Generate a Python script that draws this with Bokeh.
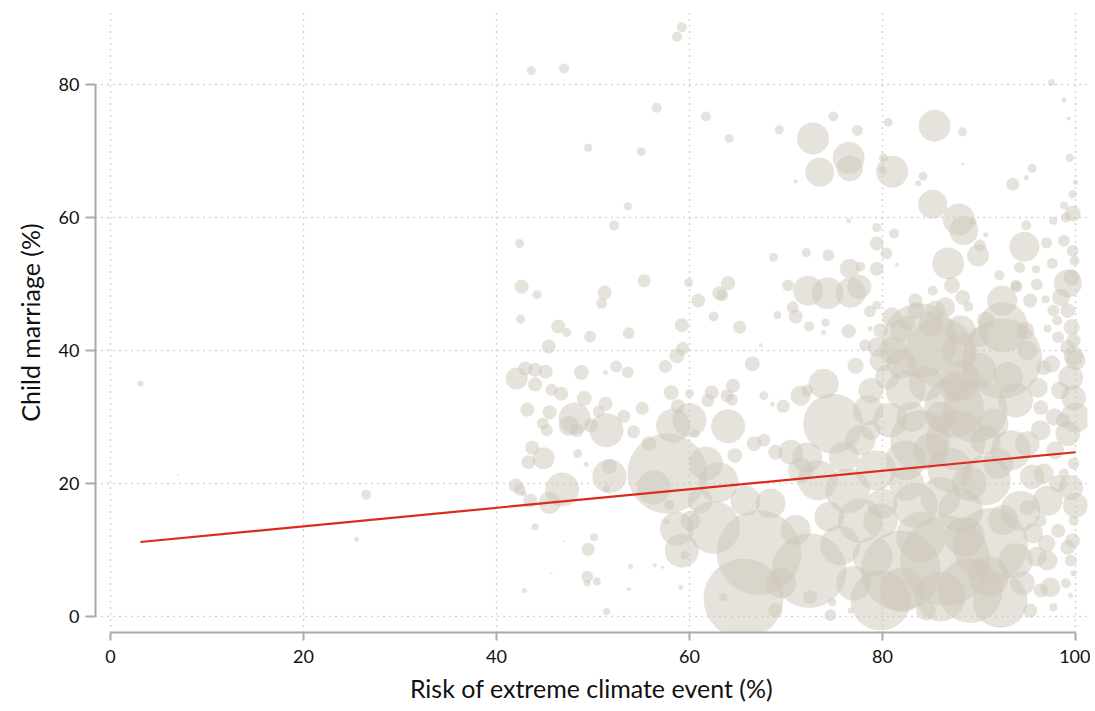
import numpy as np
from bokeh.plotting import figure
from bokeh.models import Range1d, FixedTicker, ColumnDataSource
from bokeh.embed import file_html
from bokeh.resources import INLINE

# Risk of extreme climate event (%)
risk = [
    59.2, 58.7, 43.6, 47.0, 56.6, 61.7, 64.1, 69.3, 49.5, 55.0, 53.6, 52.2, 42.4, 42.6, 44.2, 42.5,
    51.2, 50.9, 55.3, 59.9, 60.9, 63.1, 63.4, 64.0, 62.5, 65.2, 68.7, 69.1, 67.4, 46.4, 47.3, 49.7,
    53.7, 59.2, 45.4, 59.3,
    97.5, 98.8, 99.3, 74.9, 77.4, 72.8, 73.5, 76.5, 76.6, 71.0, 85.4, 88.3, 80.6, 88.3, 80.1, 80.0,
    81.0, 84.2, 83.7, 85.2, 87.9, 88.4, 89.4, 90.7, 90.1, 89.9, 86.8, 94.7, 94.9, 93.5, 94.9, 95.5,
    99.4, 100.0, 99.7, 98.8, 99.7, 99.0, 97.7, 97.0, 98.8, 99.7, 99.9, 97.6, 95.9, 96.0, 92.1, 94.2,
    93.8, 99.2, 99.6, 98.5, 99.2, 99.6, 99.8, 98.1, 97.7, 72.1, 74.4, 76.6, 77.7, 79.4, 76.5, 79.4,
    79.4, 80.4, 81.2, 81.5, 77.6, 74.3, 72.3, 76.7, 70.2, 70.7, 71.0, 72.4, 74.1, 73.9, 76.5, 78.7,
    78.7, 79.4, 85.2, 87.2, 88.3, 88.9, 82.6,
    42.1, 43.0, 44.0, 45.1, 44.0, 45.7, 46.7, 48.8, 51.3, 52.4, 53.6, 43.2, 45.5, 44.8, 45.2, 48.1,
    47.5, 48.3, 49.1, 49.8, 50.6, 51.3, 51.4, 53.2, 54.2, 55.1, 43.7, 43.3, 44.9, 48.4, 49.3, 51.7,
    51.7, 51.4, 55.8, 57.7, 56.3, 57.5, 58.7, 58.1, 58.8, 58.3, 60.0, 60.0, 60.6, 61.9, 62.3, 63.9,
    64.5, 64.4, 64.0, 66.5, 67.7, 68.6, 66.7, 67.7, 64.7, 61.7, 58.7, 59.2, 57.6, 57.9, 59.5, 59.1,
    44.0, 50.1, 49.5, 47.0, 45.7, 49.4, 49.4, 50.4, 42.9, 53.9, 53.7, 56.4, 57.2, 51.4, 43.5, 45.5,
    46.8, 42.0, 42.4, 42.8,
    3.1, 7.0, 26.5, 25.5,
    65.6, 63.0, 62.5, 67.2, 72.4, 70.5, 68.4, 74.9, 72.2, 69.7, 68.9, 72.2, 73.3, 76.4, 72.5, 76.7,
    74.8, 63.5,
    83.9, 92.4, 86.0, 87.4, 83.9, 89.6, 87.6, 79.3, 90.7, 81.9, 86.5, 91.2, 89.1, 79.8, 92.2, 92.5,
    92.4, 93.9, 96.9, 97.1, 98.2,
    99.8, 99.2, 100.0, 99.5, 99.8, 100.0, 99.2, 99.8, 98.8, 99.5, 100.0, 99.8, 99.7, 99.2, 97.1, 97.4,
    99.5, 99.8, 99.0, 99.5, 97.7, 95.6, 95.0, 96.4, 97.1, 96.7, 96.4, 96.4, 96.1, 96.7, 98.4, 97.9,
    98.7, 98.2, 96.4,
    73.9, 71.5, 78.8, 79.8, 81.1, 78.2, 77.2, 80.8, 77.7, 82.4, 87.0, 93.3, 93.8, 94.3, 93.8, 77.7,
    75.6, 79.8, 83.4, 88.1, 82.4, 88.1, 90.7, 88.1, 85.5, 83.4, 90.7, 94.8, 95.3, 78.8, 81.9, 79.8,
    71.5, 65.8, 61.1, 60.1, 74.6, 68.9, 95.3, 84.5,
    78.5, 80.5, 82.0, 84.5, 86.0, 83.0, 85.0, 82.5, 86.0, 84.0, 88.5, 82.0, 86.0, 91.0, 89.0, 92.0,
    91.5, 93.0, 90.0, 88.0, 85.0, 95.0, 95.5, 94.5, 96.0, 79.0, 77.0, 80.0, 76.0, 74.5, 71.0, 69.5,
    79.5, 81.0, 83.5, 86.5, 90.0, 95.0, 97.5, 97.8, 98.2, 97.0, 92.5, 87.5,
]

# Child marriage (%)
marriage = [
    88.6, 87.2, 82.1, 82.4, 76.5, 75.2, 71.9, 73.2, 70.5, 69.9, 61.7, 58.8, 56.1, 49.6, 48.4, 44.7,
    48.7, 47.1, 50.5, 50.2, 47.5, 48.6, 48.3, 50.1, 45.1, 43.5, 54.0, 45.3, 40.8, 43.6, 42.7, 42.1,
    42.6, 43.8, 40.6, 40.3,
    80.3, 77.7, 74.9, 75.2, 73.1, 71.9, 66.8, 69.0, 67.4, 65.4, 73.8, 72.9, 74.3, 68.1, 69.0, 67.2,
    66.9, 66.2, 65.1, 62.0, 59.7, 58.0, 59.4, 57.4, 55.8, 54.3, 53.1, 55.6, 58.8, 65.0, 66.0, 67.4,
    69.0, 65.3, 63.5, 61.8, 60.6, 60.0, 59.5, 56.2, 56.5, 55.0, 53.5, 53.1, 52.2, 49.9, 51.3, 52.5,
    49.8, 50.1, 51.0, 48.0, 46.0, 43.5, 41.5, 44.5, 46.0, 54.7, 54.3, 52.3, 52.6, 52.3, 59.5, 58.5,
    56.1, 54.6, 57.6, 52.9, 49.6, 48.6, 49.0, 48.7, 49.8, 46.5, 45.1, 43.6, 44.2, 42.7, 42.9, 45.9,
    43.3, 46.8, 49.0, 49.8, 48.0, 46.6, 44.1,
    35.8, 37.3, 37.1, 36.8, 34.9, 34.1, 33.5, 36.7, 36.7, 37.6, 36.7, 31.1, 30.7, 29.0, 28.0, 29.8,
    28.7, 28.0, 32.8, 28.7, 30.8, 32.0, 28.0, 30.1, 27.8, 31.3, 25.4, 23.2, 23.8, 24.5, 22.9, 21.1,
    22.6, 19.2, 26.0, 21.5, 19.4, 37.6, 39.2, 33.7, 31.6, 28.7, 29.5, 33.5, 27.5, 32.5, 33.7, 33.2,
    34.7, 32.6, 28.6, 38.0, 33.2, 31.9, 26.0, 26.5, 24.2, 23.0, 13.2, 9.9, 14.3, 16.8, 9.2, 4.4,
    13.5, 11.9, 10.1, 11.3, 6.5, 6.0, 5.0, 5.3, 3.9, 7.5, 4.1, 7.7, 7.4, 0.75, 17.4, 17.1,
    19.1, 19.7, 19.1, 18.5,
    35.0, 21.3, 18.3, 11.6,
    2.7, 20.2, 13.4, 9.6, 6.9, 24.7, 17.0, 29.0, 34.0, 31.6, 24.7, 23.9, 20.5, 18.9, 2.9, 0.9,
    2.1, 2.9,
    41.5, 38.8, 39.7, 31.4, 26.5, 31.0, 26.5, 22.0, 20.5, 6.9, 8.4, 10.7, 3.9, 2.4, 2.4, 43.5,
    47.5, 49.6, 47.7, 43.3, 42.0,
    39.2, 40.5, 38.5, 35.9, 32.9, 29.9, 27.5, 23.0, 21.5, 19.4, 16.7, 14.4, 11.4, 10.4, 8.4, 4.4,
    8.4, 6.5, 5.0, 3.2, 1.4, 12.5, 16.4, 14.4, 17.4, 21.5, 28.0, 31.4, 34.4, 37.4, 34.0, 25.0,
    29.5, 12.9, 3.9,
    35.0, 33.2, 34.0, 38.5, 40.0, 40.8, 37.7, 29.5, 26.5, 23.5, 22.0, 25.0, 32.5, 15.9, 8.4, 14.4,
    10.7, 14.4, 16.7, 15.9, 34.0, 35.5, 26.5, 43.0, 46.0, 47.5, 44.5, 43.0, 47.5, 28.0, 43.0, 43.0,
    22.0, 17.4, 17.4, 14.4, 0.2, 0.9, 0.9, 0.9,
    31.0, 36.0, 38.0, 35.0, 30.0, 30.0, 25.0, 20.0, 18.0, 12.0, 12.0, 4.0, 3.0, 6.0, 20.0, 23.0,
    29.0, 36.0, 37.0, 40.0, 44.0, 26.0, 21.0, 5.0, 9.0, 9.0, 5.0, 17.0, 24.0, 15.0, 13.0, 5.0,
    40.5, 45.0, 46.0, 46.5, 42.0, 40.0, 38.0, 30.0, 20.0, 11.0, 14.5, 34.5,
]

# Bubble weight (population, arbitrary units, area-proportional)
pop = [
    1.0, 1.0, 0.8, 1.0, 1.0, 1.0, 0.8, 0.8, 0.64, 0.8, 0.64, 1.0, 0.8, 2.0, 0.8, 0.8,
    2.0, 1.2, 1.7, 0.8, 2.0, 2.0, 1.4, 2.0, 1.0, 1.7, 0.8, 0.64, 0.16, 2.0, 0.8, 1.4,
    1.4, 2.0, 2.0, 1.7,
    0.5, 0.25, 0.16, 1.0, 1.2, 10.2, 8.4, 10.2, 6.8, 0.16, 10.2, 0.8, 0.8, 0.09, 0.8, 0.64,
    10.2, 0.8, 0.36, 8.4, 10.2, 8.4, 0.5, 0.25, 1.4, 4.8, 10.2, 9.0, 1.0, 1.7, 0.25, 0.8,
    0.64, 0.25, 0.64, 0.64, 2.6, 1.0, 0.64, 1.2, 1.4, 1.4, 1.0, 1.2, 0.64, 1.4, 1.0, 1.2,
    1.2, 7.8, 2.6, 3.2, 2.2, 2.6, 2.0, 1.0, 1.4, 0.8, 1.4, 4.0, 1.0, 2.0, 0.25, 0.8,
    2.0, 1.4, 1.0, 0.16, 5.8, 10.2, 9.0, 9.0, 1.4, 1.4, 2.0, 1.0, 0.64, 0.25, 2.0, 1.4,
    0.25, 0.8, 1.0, 2.6, 2.2, 1.0, 2.6,
    4.8, 2.0, 2.0, 2.0, 2.0, 1.4, 2.0, 2.2, 0.25, 1.4, 1.4, 2.0, 2.0, 1.4, 1.4, 10.2,
    4.0, 2.0, 2.2, 2.0, 1.4, 2.0, 11.6, 1.7, 1.7, 1.7, 2.0, 2.0, 4.8, 0.8, 0.25, 11.6,
    2.2, 0.5, 2.2, 64.0, 11.6, 1.7, 2.2, 2.2, 2.0, 11.6, 11.6, 0.8, 0.8, 1.7, 2.0, 1.7,
    2.0, 1.4, 11.6, 2.2, 0.8, 0.25, 2.2, 1.7, 2.2, 11.6, 11.6, 11.6, 0.36, 1.0, 0.64, 0.25,
    0.5, 0.64, 1.7, 0.04, 0.04, 1.4, 0.5, 0.64, 0.25, 0.25, 0.16, 0.16, 0.09, 0.5, 2.0, 4.8,
    11.6, 2.0, 1.4, 0.36,
    0.36, 0.04, 1.0, 0.25,
    64.0, 16.0, 28.0, 72.0, 56.0, 6.2, 9.0, 36.0, 1.4, 1.7, 2.2, 9.0, 16.0, 20.0, 2.0, 0.36,
    0.64, 0.64,
    56.0, 64.0, 49.0, 36.0, 36.0, 42.0, 36.0, 16.0, 25.0, 64.0, 81.0, 56.0, 42.0, 36.0, 30.0, 25.0,
    9.0, 1.4, 0.64, 0.64, 1.4,
    4.0, 2.2, 4.0, 6.2, 6.2, 9.0, 6.2, 1.4, 1.0, 6.2, 6.2, 1.0, 2.2, 2.2, 4.0, 4.0,
    1.4, 0.36, 1.0, 0.25, 0.64, 4.0, 2.2, 1.4, 9.0, 4.0, 4.0, 2.2, 4.0, 2.2, 3.2, 3.2,
    2.0, 2.0, 2.0,
    9.0, 4.0, 6.2, 4.8, 7.8, 1.4, 2.6, 12.0, 9.0, 16.0, 20.0, 16.0, 12.0, 16.0, 12.0, 20.0,
    16.0, 12.0, 20.0, 20.0, 16.0, 16.0, 9.0, 9.0, 4.0, 2.0, 3.2, 3.2, 2.0, 4.0, 4.8, 2.2,
    6.2, 9.0, 6.2, 4.0, 1.4, 2.0, 2.0, 4.0,
    9.0, 6.0, 9.0, 12.0, 9.0, 9.0, 12.0, 12.0, 16.0, 25.0, 16.0, 20.0, 25.0, 16.0, 12.0, 9.0,
    9.0, 9.0, 12.0, 12.0, 6.0, 6.0, 6.0, 6.0, 4.0, 16.0, 12.0, 9.0, 9.0, 9.0, 9.0, 9.0,
    4.0, 4.0, 3.0, 4.0, 4.0, 4.0, 3.0, 3.0, 3.0, 3.0, 9.0, 9.0,
]

# Linear fit endpoints
fit_risk = [3.1, 100.0]
fit_marriage = [11.2, 24.7]

x_ticks = [0, 20, 40, 60, 80, 100]
y_ticks = [0, 20, 40, 60, 80]

n = min(len(risk), len(marriage), len(pop))
src = ColumnDataSource(dict(
    x=risk[:n], y=marriage[:n],
    s=[10.0 * float(np.sqrt(v)) for v in pop[:n]],
))

FONT = "Lato"
AX = "#a9a9a9"

p = figure(
    width=1090, height=705, output_backend="svg", toolbar_location=None,
    x_range=Range1d(-1.55, 101.24), y_range=Range1d(-2.41, 90.83),
    min_border_left=95, min_border_right=3, min_border_top=12, min_border_bottom=73,
)
p.outline_line_color = None
p.background_fill_color = "white"
p.border_fill_color = "white"

for g, t in ((p.xgrid, x_ticks), (p.ygrid, y_ticks)):
    g.ticker = FixedTicker(ticks=t)
    g.grid_line_color = "#ababab"
    g.grid_line_dash = "1 5"
    g.grid_line_width = 1.5

p.scatter("x", "y", size="s", source=src, fill_color="#cdc7b9",
          fill_alpha=0.5, line_color=None)

p.line(fit_risk, fit_marriage, line_color="#dc2b1d", line_width=2.2)

p.xaxis.ticker = FixedTicker(ticks=x_ticks)
p.yaxis.ticker = FixedTicker(ticks=y_ticks)
p.xaxis.bounds = (0, 100)
p.yaxis.bounds = (0, 80)
p.xaxis.axis_label = "Risk of extreme climate event (%)"
p.yaxis.axis_label = "Child marriage (%)"
for ax in (p.xaxis, p.yaxis):
    ax.axis_line_color = AX
    ax.axis_line_width = 2
    ax.major_tick_line_color = AX
    ax.major_tick_line_width = 2
    ax.major_tick_in = 0
    ax.minor_tick_line_color = None
    ax.major_label_text_font = FONT
    ax.major_label_text_font_size = "18px"
    ax.major_label_text_color = "#111111"
    ax.axis_label_text_font = FONT
    ax.axis_label_text_font_size = "25px"
    ax.axis_label_text_font_style = "normal"
    ax.axis_label_text_color = "#111111"
p.xaxis.major_tick_out = 8
p.yaxis.major_tick_out = 10
p.xaxis.major_label_standoff = 9
p.yaxis.major_label_standoff = 6
p.xaxis.axis_label_standoff = 7
p.yaxis.axis_label_standoff = 11

open("out.html", "w").write(file_html(p, INLINE))
